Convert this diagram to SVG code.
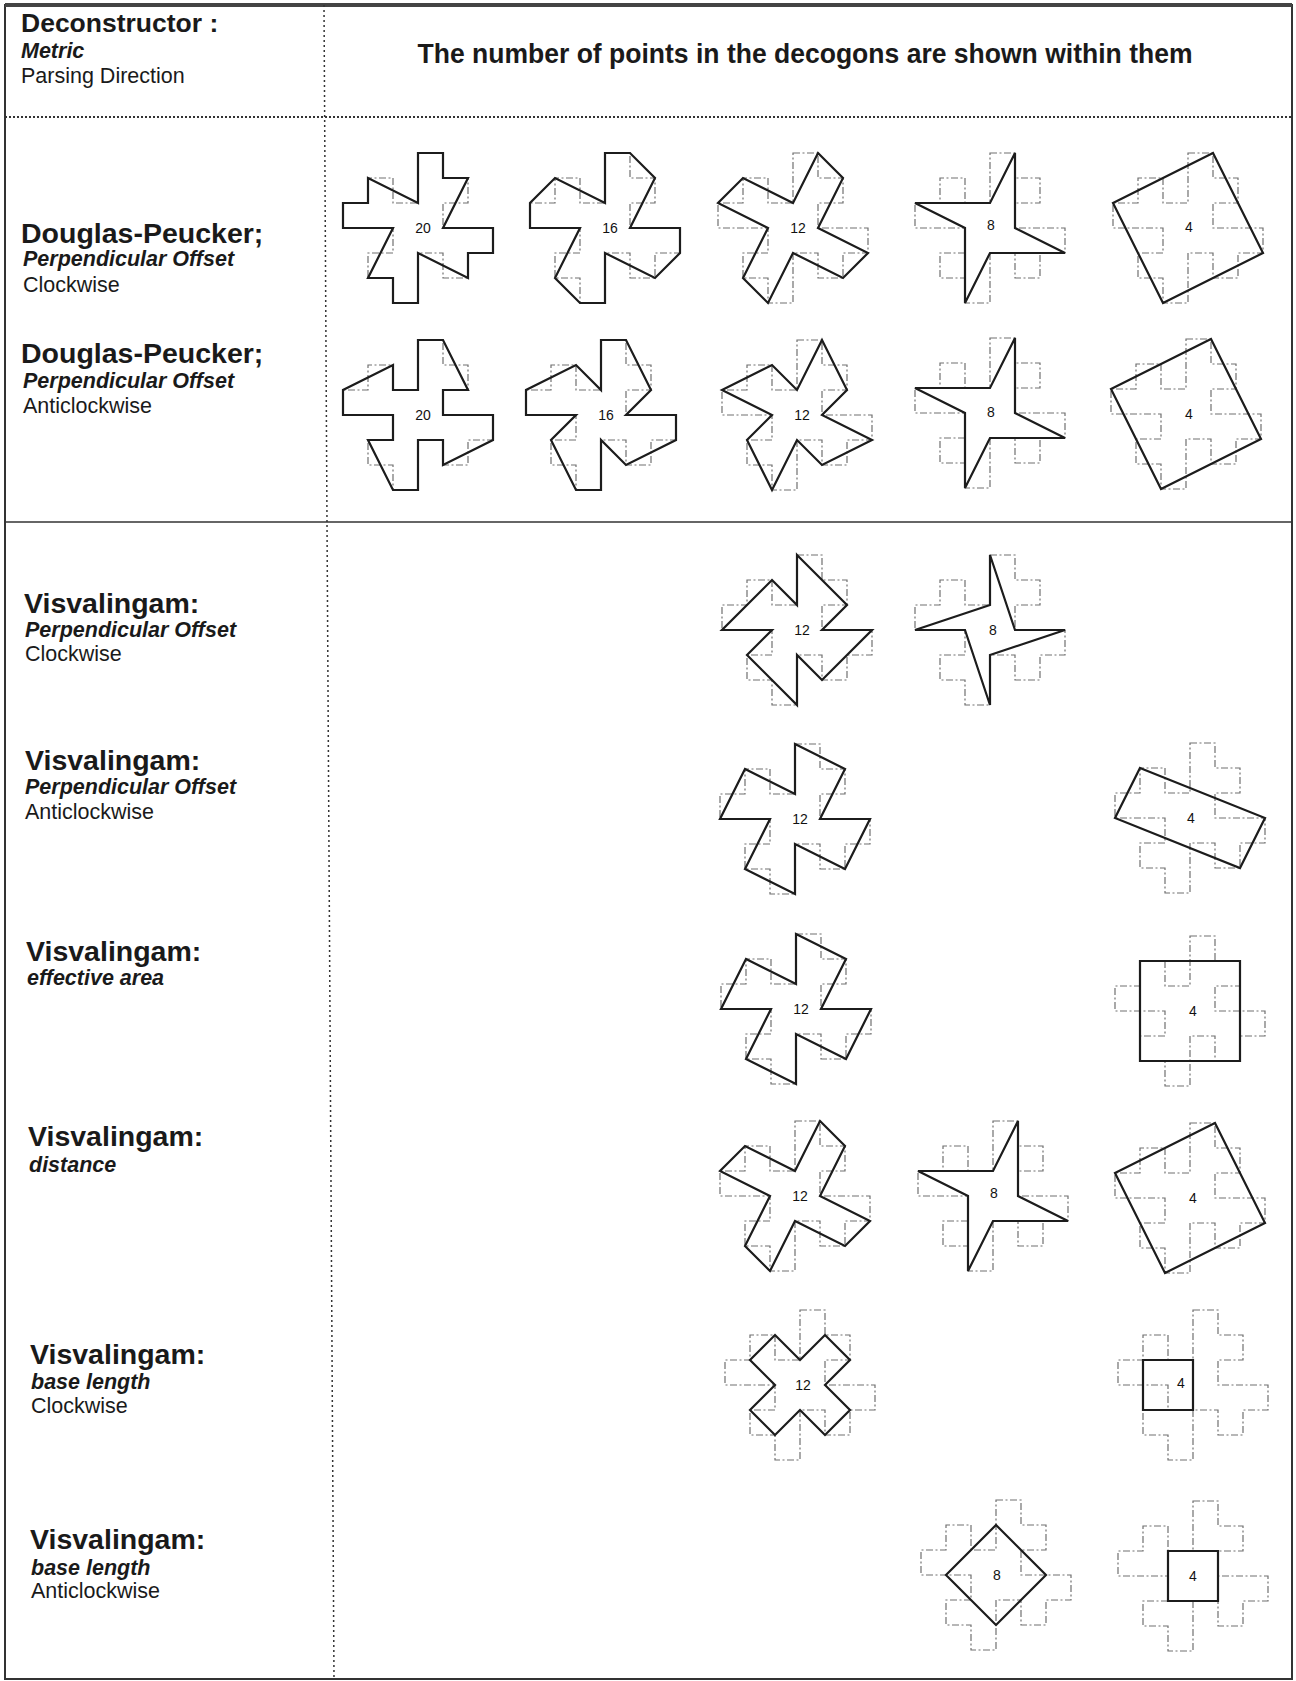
<svg xmlns="http://www.w3.org/2000/svg" xmlns:xlink="http://www.w3.org/1999/xlink" width="1296" height="1681" viewBox="0 0 1296 1681">
<style>
.o{fill:none;stroke:#707070;stroke-width:1.2;stroke-dasharray:7 2.5 2 2.5}
.s{fill:none;stroke:#1c1c1c;stroke-width:2.2;stroke-linejoin:miter}
.n{font-family:"Liberation Sans",Arial,sans-serif;font-size:14px;fill:#111;text-anchor:middle;dominant-baseline:central}
.h{font-family:"Liberation Sans",Arial,sans-serif;font-size:28.5px;font-weight:bold;fill:#1a1a1a}
.m{font-family:"Liberation Sans",Arial,sans-serif;font-size:21.5px;font-weight:bold;font-style:italic;fill:#1a1a1a}
.p{font-family:"Liberation Sans",Arial,sans-serif;font-size:21.5px;fill:#1a1a1a}
.frame{fill:none;stroke:#333;stroke-width:2}
.dot{fill:none;stroke:#333;stroke-width:2;stroke-dasharray:2 2}
</style>
<defs>
<path id="orig" class="o" d="M75,0H100V25H125V50H100V75H150V100H125V125H100V100H75V150H50V125H25V100H50V75H0V50H25V25H50V50H75Z"/>
</defs>
<rect width="1296" height="1681" fill="#fff"/>
<g id="table">
<rect class="frame" x="5" y="5" width="1287" height="1674"/>
<line x1="5" y1="5" x2="1292" y2="5" stroke="#444" stroke-width="4"/>
<line class="dot" x1="5" y1="117" x2="1292" y2="117"/>
<polyline points="324,5 327,522 334,1679" fill="none" stroke="#333" stroke-width="1.5" stroke-dasharray="2 3"/>
<line x1="5" y1="522" x2="1292" y2="522" stroke="#333" stroke-width="1.6"/>
</g>
<g id="header">
<text class="h" x="21" y="32" style="font-size:26.5px">Deconstructor :</text>
<text class="m" x="21" y="58">Metric</text>
<text class="p" x="21" y="83">Parsing Direction</text>
<text class="h" x="805" y="63" text-anchor="middle" textLength="775" lengthAdjust="spacingAndGlyphs">The number of points in the decogons are shown within them</text>
</g>
<g id="labels">
<text class="h" x="21" y="243">Douglas-Peucker;</text>
<text class="m" x="23" y="266">Perpendicular Offset</text>
<text class="p" x="23" y="292">Clockwise</text>
<text class="h" x="21" y="363">Douglas-Peucker;</text>
<text class="m" x="23" y="388">Perpendicular Offset</text>
<text class="p" x="23" y="413">Anticlockwise</text>
<text class="h" x="24" y="613">Visvalingam:</text>
<text class="m" x="25" y="637">Perpendicular Offset</text>
<text class="p" x="25" y="661">Clockwise</text>
<text class="h" x="25" y="770">Visvalingam:</text>
<text class="m" x="25" y="794">Perpendicular Offset</text>
<text class="p" x="25" y="819">Anticlockwise</text>
<text class="h" x="26" y="961">Visvalingam:</text>
<text class="m" x="27" y="985">effective area</text>
<text class="h" x="28" y="1146">Visvalingam:</text>
<text class="m" x="29" y="1172">distance</text>
<text class="h" x="30" y="1364">Visvalingam:</text>
<text class="m" x="31" y="1389">base length</text>
<text class="p" x="31" y="1413">Clockwise</text>
<text class="h" x="30" y="1549">Visvalingam:</text>
<text class="m" x="31" y="1575">base length</text>
<text class="p" x="31" y="1598">Anticlockwise</text>
</g>
<g id="dp-cw-20" transform="translate(343,153)"><use xlink:href="#orig"/><polygon class="s" points="75,0 100,0 100,25 125,25 100,75 150,75 150,100 125,100 125,125 75,100 75,150 50,150 50,125 25,125 50,75 0,75 0,50 25,50 25,25 75,50"/><text class="n" x="80" y="75">20</text></g>
<g id="dp-cw-16" transform="translate(530,153)"><use xlink:href="#orig"/><polygon class="s" points="75,0 100,0 125,25 100,75 150,75 150,100 125,125 75,100 75,150 50,150 25,125 50,75 0,75 0,50 25,25 75,50"/><text class="n" x="80" y="75">16</text></g>
<g id="dp-cw-12" transform="translate(718,153)"><use xlink:href="#orig"/><polygon class="s" points="100,0 125,25 100,75 150,100 125,125 75,100 50,150 25,125 50,75 0,50 25,25 75,50"/><text class="n" x="80" y="75">12</text></g>
<g id="dp-cw-8" transform="translate(915,153)"><use xlink:href="#orig"/><polygon class="s" points="100,0 100,75 150,100 75,100 50,150 50,75 0,50 75,50"/><text class="n" x="76" y="72">8</text></g>
<g id="dp-cw-4" transform="translate(1113,153)"><use xlink:href="#orig"/><polygon class="s" points="100,0 150,100 50,150 0,50"/><text class="n" x="76" y="74">4</text></g>
<g id="dp-acw-20" transform="translate(343,340)"><use xlink:href="#orig"/><polygon class="s" points="75,0 100,0 125,50 100,50 100,75 150,75 150,100 100,125 100,100 75,100 75,150 50,150 25,100 50,100 50,75 0,75 0,50 50,25 50,50 75,50"/><text class="n" x="80" y="75">20</text></g>
<g id="dp-acw-16" transform="translate(526,340)"><use xlink:href="#orig"/><polygon class="s" points="75,0 100,0 125,50 100,75 150,75 150,100 100,125 75,100 75,150 50,150 25,100 50,75 0,75 0,50 50,25 75,50"/><text class="n" x="80" y="75">16</text></g>
<g id="dp-acw-12" transform="translate(722,340)"><use xlink:href="#orig"/><polygon class="s" points="100,0 125,50 100,75 150,100 100,125 75,100 50,150 25,100 50,75 0,50 50,25 75,50"/><text class="n" x="80" y="75">12</text></g>
<g id="dp-acw-8" transform="translate(915,338)"><use xlink:href="#orig"/><polygon class="s" points="100,0 100,75 150,100 75,100 50,150 50,75 0,50 75,50"/><text class="n" x="76" y="74">8</text></g>
<g id="dp-acw-4" transform="translate(1111,339)"><use xlink:href="#orig"/><polygon class="s" points="100,0 150,100 50,150 0,50"/><text class="n" x="78" y="75">4</text></g>
<g id="vis-po-cw-12" transform="translate(722,555)"><use xlink:href="#orig"/><polygon class="s" points="75,0 125,50 100,75 150,75 100,125 75,100 75,150 25,100 50,75 0,75 50,25 75,50"/><text class="n" x="80" y="75">12</text></g>
<g id="vis-po-cw-8" transform="translate(915,555)"><use xlink:href="#orig"/><polygon class="s" points="75,0 100,75 150,75 75,100 75,150 50,75 0,75 75,50"/><text class="n" x="78" y="75">8</text></g>
<g id="vis-po-acw-12" transform="translate(720,744)"><use xlink:href="#orig"/><polygon class="s" points="75,0 125,25 100,75 150,75 125,125 75,100 75,150 25,125 50,75 0,75 25,25 75,50"/><text class="n" x="80" y="75">12</text></g>
<g id="vis-po-acw-4" transform="translate(1115,743)"><use xlink:href="#orig"/><polygon class="s" points="25,25 150,75 125,125 0,75"/><text class="n" x="76" y="75">4</text></g>
<g id="vis-ea-12" transform="translate(721,934)"><use xlink:href="#orig"/><polygon class="s" points="75,0 125,25 100,75 150,75 125,125 75,100 75,150 25,125 50,75 0,75 25,25 75,50"/><text class="n" x="80" y="75">12</text></g>
<g id="vis-ea-4" transform="translate(1115,936)"><use xlink:href="#orig"/><polygon class="s" points="25,25 125,25 125,125 25,125"/><text class="n" x="78" y="75">4</text></g>
<g id="vis-dist-12" transform="translate(720,1121)"><use xlink:href="#orig"/><polygon class="s" points="100,0 125,25 100,75 150,100 125,125 75,100 50,150 25,125 50,75 0,50 25,25 75,50"/><text class="n" x="80" y="75">12</text></g>
<g id="vis-dist-8" transform="translate(918,1121)"><use xlink:href="#orig"/><polygon class="s" points="100,0 100,75 150,100 75,100 50,150 50,75 0,50 75,50"/><text class="n" x="76" y="72">8</text></g>
<g id="vis-dist-4" transform="translate(1115,1123)"><use xlink:href="#orig"/><polygon class="s" points="100,0 150,100 50,150 0,50"/><text class="n" x="78" y="75">4</text></g>
<g id="vis-bl-cw-12" transform="translate(725,1310)"><use xlink:href="#orig"/><polygon class="s" points="75,50 100,25 125,50 100,75 125,100 100,125 75,100 50,125 25,100 50,75 25,50 50,25"/><text class="n" x="78" y="75">12</text></g>
<g id="vis-bl-cw-4" transform="translate(1118,1310)"><use xlink:href="#orig"/><polygon class="s" points="25,50 75,50 75,100 25,100"/><text class="n" x="63" y="73">4</text></g>
<g id="vis-bl-acw-8" transform="translate(921,1500)"><use xlink:href="#orig"/><polygon class="s" points="75,25 100,50 125,75 100,100 75,125 50,100 25,75 50,50"/><text class="n" x="76" y="75">8</text></g>
<g id="vis-bl-acw-4" transform="translate(1118,1501)"><use xlink:href="#orig"/><polygon class="s" points="50,50 100,50 100,100 50,100"/><text class="n" x="75" y="75">4</text></g>
<g id="connectors"></g>
</svg>
